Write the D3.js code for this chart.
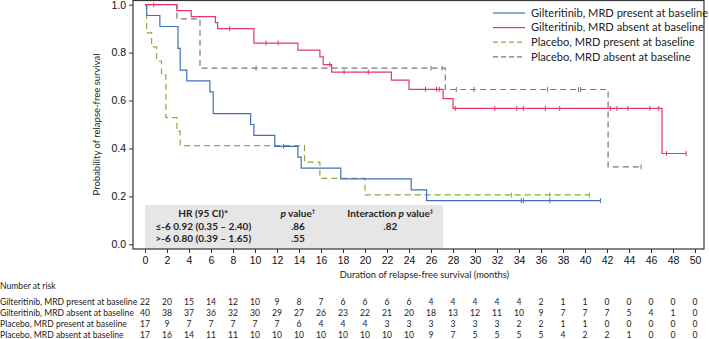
<!DOCTYPE html>
<html>
<head>
<meta charset="utf-8">
<script src="https://cdn.jsdelivr.net/npm/d3@7"></script>
<style>
    body { margin: 0; background: #fff; }
    svg { font-family: Lato, "Open Sans", sans-serif; }
    .axis text { font-size: 10.5px; fill: #111; }
    .axis path, .axis line { stroke: #333; }
    .km { fill: none; stroke-width: 1.2; }
</style>
</head>
<body>
<div class="container"></div>
<script>
// step curves (months, survival)
var blueT = [0, 0.15, 1.35, 3.0, 3.2, 3.8, 5.9, 6.2, 9.6, 9.9, 11.8, 13.9, 14.2, 17.8, 24.2, 25.6];
var blueS = [1, 0.955, 0.909, 0.818, 0.727, 0.682, 0.636, 0.545, 0.5, 0.455, 0.409, 0.364, 0.318, 0.273, 0.227, 0.182];
var blueEnd = 41.4;
var blueCensor = [12.6, 34.2, 34.4, 36.8, 41.4];

var redT = [0, 2.9, 4.2, 6.4, 6.6, 9.9, 13.9, 15.9, 16.2, 16.97, 22.4, 24.0, 27.1, 28.0, 47.0];
var redS = [1, 0.975, 0.95, 0.925, 0.9, 0.84, 0.81, 0.782, 0.75, 0.719, 0.685, 0.647, 0.608, 0.567, 0.379];
var redEnd = 49.2;
var redCensor = [0.8, 7.7, 11.0, 12.1, 16.8, 18.1, 20.3, 25.5, 26.5, 26.75, 28.2, 31.8, 33.8, 34.4, 36.4, 37.7, 42.3, 42.9, 43.9, 45.9, 46.7, 47.4, 49.2];

var greenT = [0, 0.15, 0.6, 1.06, 1.5, 1.9, 2.9, 3.2, 14.5, 15.9, 20.0];
var greenS = [1, 0.882, 0.824, 0.765, 0.706, 0.529, 0.471, 0.412, 0.343, 0.275, 0.206];
var greenEnd = 40.4;
var greenCensor = [33.3, 36.8, 40.4];

var greyT = [0, 2.9, 5.0, 27.3, 42.1];
var greyS = [1, 0.941, 0.735, 0.646, 0.323];
var greyEnd = 45.1;
var greyCensor = [10.1, 26.0, 27.0, 28.3, 29.9, 36.6, 39.4, 39.6, 45.1];

var seriesNames = ["Gilteritinib, MRD present at baseline", "Gilteritinib, MRD absent at baseline",
    "Placebo, MRD present at baseline", "Placebo, MRD absent at baseline"];

// number at risk, one value per 2-month tick
var riskTimes = d3.range(0, 51, 2);
var riskBlue = [22, 20, 15, 14, 12, 10, 9, 8, 7, 6, 6, 6, 6, 4, 4, 4, 4, 4, 2, 1, 1, 0, 0, 0, 0, 0];
var riskRed = [40, 38, 37, 36, 32, 30, 29, 27, 26, 23, 22, 21, 20, 18, 13, 12, 11, 10, 9, 7, 7, 7, 5, 4, 1, 0];
var riskGreen = [17, 9, 7, 7, 7, 7, 7, 6, 4, 4, 4, 3, 3, 3, 3, 3, 3, 2, 2, 1, 1, 0, 0, 0, 0, 0];
var riskGrey = [17, 16, 14, 11, 11, 10, 10, 10, 10, 10, 10, 10, 10, 9, 7, 5, 5, 5, 5, 4, 2, 2, 1, 0, 0, 0];

var yTicks = [0, 0.2, 0.4, 0.6, 0.8, 1.0];

var hrHead = ["HR (95 CI)*", "p value\u2020", "Interaction p value\u2021"];
var hrRows = [["\u2264-6 0.92 (0.35 \u2013 2.40)", ".86", ".82"], [">-6 0.80 (0.39 \u2013 1.65)", ".55", ""]];

function drawChart() {
    var W = 709, H = 339;
    var frame = { left: 133, right: 704, top: 0.5, bottom: 249 };

    var svg = d3.select(".container").append("svg")
        .attr("width", W)
        .attr("height", H);

    var x = d3.scaleLinear().domain([0, 50]).range([145, 695]);
    var y = d3.scaleLinear().domain([0, 1]).range([244.3, 4.7]);

    // HR box sits behind the curves
    var box = svg.append("g");
    box.append("rect")
        .attr("x", x(0)).attr("y", 205)
        .attr("width", x(27.1) - x(0)).attr("height", frame.bottom - 205)
        .attr("fill", "#e6e6e6");

    var cols = [x(5.3), x(13.9), x(22.3)];
    box.selectAll(".hrhead").data(hrHead).enter().append("text")
        .attr("x", function (d, i) { return cols[i]; })
        .attr("y", 213.5)
        .attr("dy", "0.35em")
        .attr("text-anchor", "middle")
        .attr("font-size", 10)
        .attr("font-weight", "bold")
        .attr("fill", "#222")
        .html(function (d) {
            return d.replace(/p value(.)/, "<tspan font-style='italic'>p</tspan> value<tspan font-size='6' dy='-4'>$1</tspan>");
        });
    hrRows.forEach(function (row, r) {
        box.selectAll(".hr" + r).data(row).enter().append("text")
            .attr("x", function (d, i) { return cols[i]; })
            .attr("y", 226 + r * 12)
            .attr("dy", "0.35em")
            .attr("text-anchor", "middle")
            .attr("font-size", 10)
            .attr("font-weight", "bold")
            .attr("fill", "#222")
            .text(function (d) { return d; });
    });

    // frame
    svg.append("rect")
        .attr("x", frame.left).attr("y", frame.top)
        .attr("width", frame.right - frame.left).attr("height", frame.bottom - frame.top)
        .attr("fill", "none").attr("stroke", "#333").attr("stroke-width", 1.2);

    var xAxis = svg.append("g")
        .attr("class", "axis")
        .attr("transform", "translate(0," + frame.bottom + ")")
        .call(d3.axisBottom(x).tickValues(riskTimes).tickSize(4).tickSizeOuter(0));
    xAxis.select(".domain").remove();
    xAxis.selectAll("text").attr("y", 11).attr("dy", "0.35em");

    var yAxis = svg.append("g")
        .attr("class", "axis")
        .attr("transform", "translate(" + frame.left + ",0)")
        .call(d3.axisLeft(y).tickValues(yTicks).tickFormat(d3.format(".1f")).tickSize(4).tickSizeOuter(0));
    yAxis.select(".domain").remove();

    svg.append("text")
        .attr("transform", "translate(97," + y(0.5) + ") rotate(-90)")
        .attr("text-anchor", "middle")
        .attr("dy", "0.35em")
        .attr("font-size", 9.5)
        .attr("fill", "#222")
        .text("Probability of relapse-free survival");

    svg.append("text")
        .attr("x", x(25.4)).attr("y", 275)
        .attr("text-anchor", "middle")
        .attr("dy", "0.35em")
        .attr("font-size", 9.3)
        .attr("fill", "#222")
        .text("Duration of relapse-free survival (months)");

    // KM curves
    var series = [
        { t: blueT, s: blueS, end: blueEnd, cens: blueCensor, color: "#3f71b8", dash: null },
        { t: redT, s: redS, end: redEnd, cens: redCensor, color: "#e23a64", dash: null },
        { t: greenT, s: greenS, end: greenEnd, cens: greenCensor, color: "#8aab3c", dash: "6,4" },
        { t: greyT, s: greyS, end: greyEnd, cens: greyCensor, color: "#777", dash: "6,4" }
    ];

    var line = d3.line()
        .x(function (d) { return x(d[0]); })
        .y(function (d) { return y(d[1]); })
        .curve(d3.curveStepAfter);

    // survival level at time tt for a series
    function survAt(sr, tt) {
        var v = sr.s[0];
        for (var i = 0; i < sr.t.length; i++) {
            if (sr.t[i] <= tt) v = sr.s[i];
        }
        return v;
    }

    // draw placebo first so gilteritinib lines end up on top
    [3, 2, 0, 1].forEach(function (k) {
        var sr = series[k];
        var pts = sr.t.map(function (d, i) { return [d, sr.s[i]]; });
        pts.push([sr.end, sr.s[sr.s.length - 1]]);
        var g = svg.append("g");
        g.append("path")
            .datum(pts)
            .attr("class", "km")
            .attr("stroke", sr.color)
            .attr("stroke-dasharray", sr.dash)
            .attr("d", line);
        g.selectAll("line")
            .data(sr.cens)
            .enter()
            .append("line")
            .attr("x1", function (d) { return x(d); })
            .attr("x2", function (d) { return x(d); })
            .attr("y1", function (d) { return y(survAt(sr, d)) - 2.5; })
            .attr("y2", function (d) { return y(survAt(sr, d)) + 2.5; })
            .attr("stroke", sr.color)
            .attr("stroke-width", 1);
    });

    // legend
    var legend = svg.append("g").attr("transform", "translate(493,13)");
    series.forEach(function (sr, i) {
        legend.append("line")
            .attr("x1", 0).attr("x2", 32)
            .attr("y1", i * 14.6).attr("y2", i * 14.6)
            .attr("stroke", sr.color)
            .attr("stroke-width", 1.2)
            .attr("stroke-dasharray", sr.dash ? "5,3" : null);
        legend.append("text")
            .attr("x", 38).attr("y", i * 14.6)
            .attr("dy", "0.35em")
            .attr("font-size", 11.1)
            .attr("fill", "#222")
            .text(seriesNames[i]);
    });

    // number at risk table
    svg.append("text")
        .attr("x", 0).attr("y", 286)
        .attr("dy", "0.35em")
        .attr("font-size", 8.6)
        .attr("fill", "#222")
        .text("Number at risk");

    var riskRows = [riskBlue, riskRed, riskGreen, riskGrey];
    riskRows.forEach(function (row, r) {
        var ry = 302 + r * 11;
        svg.append("text")
            .attr("x", 0).attr("y", ry)
            .attr("dy", "0.35em")
            .attr("font-size", 8.6)
            .attr("fill", "#222")
            .text(seriesNames[r]);
        svg.append("g").selectAll("text")
            .data(row)
            .enter()
            .append("text")
            .attr("x", function (d, i) { return x(riskTimes[i]); })
            .attr("y", ry)
            .attr("dy", "0.35em")
            .attr("text-anchor", "middle")
            .attr("font-size", 8.6)
            .attr("fill", "#222")
            .text(function (d) { return d; });
    });
}

drawChart();
</script>
</body>
</html>
